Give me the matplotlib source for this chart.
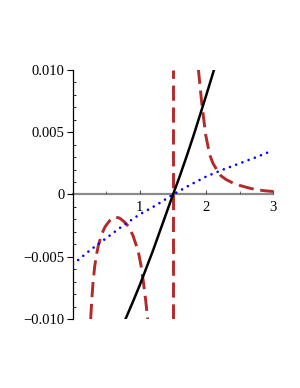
import numpy as np
import matplotlib
matplotlib.use("Agg")
import matplotlib.pyplot as plt
from matplotlib.ticker import FixedLocator, MultipleLocator

# values
black_x = [0.78, 0.9, 1.0, 1.1, 1.2, 1.3, 1.4, 1.5, 1.6, 1.7, 1.8, 1.9, 2.0, 2.12]
black_y = [-0.0101, -0.0086, -0.0073, -0.0059, -0.0045, -0.0030, -0.0015, 0.0,
           0.00145, 0.0030, 0.0046, 0.0063, 0.0080, 0.0101]

blue_x = [0.0, 0.25, 0.5, 0.75, 1.0, 1.25, 1.5, 1.75, 2.0, 2.25, 2.5, 2.75, 3.0]
blue_y = [-0.0056, -0.0045, -0.0035, -0.0025, -0.00160, -0.00085, 0.0,
          0.00075, 0.00145, 0.0020, 0.0025, 0.0030, 0.00355]

red_left_x = [0.265, 0.28, 0.30, 0.325, 0.35, 0.38, 0.43, 0.48, 0.55, 0.63,
              0.70, 0.77, 0.83, 0.90, 0.98, 1.02, 1.055, 1.09, 1.12]
red_left_y = [-0.0100, -0.0086, -0.0071, -0.0058, -0.0049, -0.0041, -0.0032,
              -0.0026, -0.0021, -0.0018, -0.0019, -0.0022, -0.00255, -0.0033,
              -0.0046, -0.0057, -0.0070, -0.0085, -0.0100]

red_pole_x = [1.5, 1.5]
red_pole_y = [-0.0100, 0.0100]

red_right_x = [1.88, 1.93, 1.99, 2.05, 2.1, 2.155, 2.22, 2.3, 2.4, 2.5, 2.62,
               2.75, 2.88, 3.0]
red_right_y = [0.0101, 0.0074, 0.0048, 0.0032, 0.0025, 0.0020, 0.0015,
               0.00119, 0.00092, 0.00073, 0.00055, 0.00038, 0.00030, 0.00024]

ytick_vals = [-0.010, -0.005, 0.0, 0.005, 0.010]
ytick_labels = ["\u22120.010", "\u22120.005", "0", "0.005", "0.010"]
xtick_vals = [1, 2, 3]
xtick_labels = ["1", "2", "3"]

plt.rcParams["font.family"] = ["Liberation Serif", "DejaVu Serif"]

fig = plt.figure(figsize=(3.0, 3.88), dpi=100)
ax = fig.add_axes([73 / 300, 69 / 388, 200 / 300, 249 / 388])

red = "#b22a2a"
ax.plot(blue_x, blue_y, color="blue", lw=1.9, linestyle=(0, (0.01, 2.5)),
        dash_capstyle="round", zorder=3)
for xs, ys in [(red_left_x, red_left_y), (red_pole_x, red_pole_y),
               (red_right_x, red_right_y)]:
    ax.plot(xs, ys, color=red, lw=2.1, linestyle=(0, (5.2, 2.3)), zorder=2)
ax.plot(black_x, black_y, color="black", lw=1.8, zorder=4)

ax.set_xlim(0, 3)
ax.set_ylim(-0.010, 0.010)

for s in ["top", "right"]:
    ax.spines[s].set_visible(False)
ax.spines["bottom"].set_position(("data", 0))
ax.spines["bottom"].set_color("#8a8a8a")
ax.spines["bottom"].set_linewidth(1.6)
ax.spines["bottom"].set_zorder(1)
ax.spines["left"].set_linewidth(0.9)

ax.yaxis.set_major_locator(FixedLocator(ytick_vals))
ax.set_yticklabels(ytick_labels)
ax.yaxis.set_minor_locator(MultipleLocator(0.001))
ax.xaxis.set_major_locator(FixedLocator(xtick_vals))
ax.set_xticklabels(xtick_labels)
ax.xaxis.set_minor_locator(MultipleLocator(0.5))

ax.tick_params(axis="y", which="major", direction="out", length=4, width=0.8,
               labelsize=10.5, pad=2)
ax.tick_params(axis="y", which="minor", direction="in", length=2.5, width=0.6)
ax.tick_params(axis="x", which="major", direction="in", length=3, width=0.8,
               color="#555555", labelsize=10.5, pad=5)
ax.tick_params(axis="x", which="minor", direction="in", length=2, width=0.6,
               color="#555555")

fig.savefig("out.png", dpi=100)
